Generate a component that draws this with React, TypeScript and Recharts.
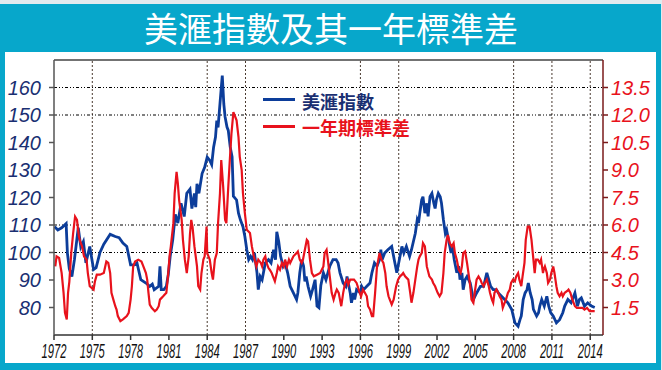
import React from 'react';
import { LineChart, Line, XAxis, YAxis, ReferenceLine } from 'recharts';

const usdYears = [
  1972.05, 1972.3, 1972.6, 1972.95, 1973.05, 1973.2, 1973.4, 1973.6, 1973.9, 1974.1,
  1974.3, 1974.5, 1974.8, 1975.1, 1975.3, 1975.6, 1975.9, 1976.4, 1976.8, 1977.1,
  1977.4, 1977.7, 1978.0, 1978.3, 1978.5, 1978.8, 1979.2, 1979.5, 1979.7, 1979.85,
  1980.2, 1980.3, 1980.4, 1980.6, 1980.8, 1980.95, 1981.1, 1981.3, 1981.5, 1981.7,
  1981.95, 1982.2, 1982.4, 1982.65, 1982.8, 1983.0, 1983.1, 1983.2, 1983.35, 1983.6,
  1983.8, 1984.0, 1984.2, 1984.35, 1984.5, 1984.65, 1984.75, 1984.85, 1985.0, 1985.18,
  1985.3, 1985.4, 1985.55, 1985.65, 1985.8, 1985.95, 1986.05, 1986.3, 1986.45, 1986.6,
  1986.8, 1986.95, 1987.1, 1987.25, 1987.4, 1987.55, 1987.7, 1987.9, 1988.0, 1988.15,
  1988.3, 1988.55, 1988.8, 1989.0, 1989.2, 1989.35, 1989.45, 1989.6, 1989.75, 1989.95,
  1990.1, 1990.3, 1990.5, 1990.75, 1991.0, 1991.1, 1991.25, 1991.4, 1991.55, 1991.65,
  1991.75, 1991.9, 1992.1, 1992.25, 1992.45, 1992.6, 1992.75, 1992.9, 1993.1, 1993.3,
  1993.6, 1993.85, 1994.1, 1994.25, 1994.4, 1994.65, 1994.85, 1994.95, 1995.2, 1995.3,
  1995.45, 1995.55, 1995.7, 1996.0, 1996.1, 1996.25, 1996.5, 1996.75, 1996.9, 1997.1,
  1997.3, 1997.5, 1997.6, 1997.7, 1997.9, 1998.15, 1998.45, 1998.55, 1998.7, 1998.85,
  1999.1, 1999.25, 1999.4, 1999.6, 1999.85, 2000.0, 2000.3, 2000.45, 2000.55, 2000.65,
  2000.8, 2000.9, 2001.05, 2001.2, 2001.3, 2001.45, 2001.6, 2001.75, 2001.85, 2001.95,
  2002.1, 2002.25, 2002.35, 2002.5, 2002.65, 2002.75, 2002.9, 2003.1, 2003.2, 2003.35,
  2003.45, 2003.55, 2003.7, 2003.8, 2003.95, 2004.05, 2004.2, 2004.35, 2004.6, 2004.85,
  2005.1, 2005.4, 2005.65, 2005.9, 2006.05, 2006.2, 2006.4, 2006.65, 2006.8, 2007.05,
  2007.3, 2007.55, 2007.85, 2008.1, 2008.35, 2008.5, 2008.6, 2008.75, 2008.9, 2009.05,
  2009.15, 2009.3, 2009.45, 2009.55, 2009.8, 2009.95, 2010.05, 2010.2, 2010.4, 2010.6,
  2010.75, 2010.9, 2011.1, 2011.35, 2011.6, 2011.85, 2012.0, 2012.25, 2012.5, 2012.8,
  2013.0, 2013.15, 2013.3, 2013.55, 2013.8, 2014.1, 2014.35,
];

const usdIndex = [
  109.4, 108.2, 109.0, 110.5, 99.8, 94.0, 91.3, 97.4, 109.0, 102.0,
  104.0, 96.2, 102.2, 93.8, 94.5, 100.0, 103.0, 106.6, 105.8, 105.4,
  103.4, 102.2, 95.5, 95.5, 96.2, 90.1, 88.9, 87.7, 88.5, 86.5,
  87.7, 95.0, 86.5, 86.5, 87.7, 92.0, 98.6, 104.6, 113.9, 110.7,
  117.9, 113.1, 121.5, 123.0, 116.0, 121.5, 116.5, 125.0, 121.5, 128.7,
  131.0, 134.7, 133.5, 132.0, 138.3, 142.0, 148.0, 145.5, 154.1, 164.3,
  154.0, 149.3, 145.6, 144.4, 138.4, 134.8, 120.5, 119.1, 114.3, 111.9,
  109.4, 105.8, 101.0, 97.4, 98.6, 97.4, 99.8, 92.6, 86.5, 91.3,
  90.1, 96.2, 97.4, 96.2, 101.0, 97.4, 107.5, 104.0, 98.6, 95.0,
  96.2, 92.6, 87.7, 85.3, 82.9, 85.3, 92.6, 97.4, 95.0, 89.5,
  91.3, 87.7, 84.1, 86.5, 90.1, 80.5, 79.9, 88.0, 92.6, 90.1,
  95.0, 97.4, 97.4, 96.2, 92.6, 88.9, 87.7, 91.3, 85.3, 81.7,
  85.3, 82.9, 86.5, 85.3, 87.7, 86.5, 87.7, 88.9, 92.6, 96.2,
  95.0, 97.4, 101.0, 97.4, 99.8, 101.0, 102.2, 99.8, 96.2, 92.6,
  98.6, 102.2, 99.8, 102.2, 98.6, 101.0, 107.0, 111.9, 110.7, 114.3,
  119.1, 120.3, 114.3, 117.9, 113.1, 120.3, 121.5, 117.9, 116.0, 119.1,
  121.5, 120.3, 117.9, 111.9, 107.0, 108.2, 104.6, 99.8, 102.2, 97.4,
  95.0, 92.6, 95.0, 90.1, 92.6, 86.5, 90.1, 91.3, 88.9, 82.9,
  85.3, 87.7, 87.7, 92.6, 90.1, 87.7, 86.5, 86.5, 85.3, 84.1,
  82.9, 81.7, 79.3, 74.4, 73.2, 75.6, 76.9, 82.9, 85.3, 86.5,
  88.9, 85.3, 82.9, 79.3, 76.9, 78.1, 80.5, 82.9, 80.5, 84.1,
  80.5, 78.1, 76.9, 74.4, 75.6, 78.1, 80.5, 82.9, 81.7, 85.3,
  80.5, 82.9, 83.5, 80.5, 81.7, 80.5, 80.0,
];

const sdYears = [
  1972.1, 1972.2, 1972.4, 1972.6, 1972.75, 1972.86, 1973.0, 1973.1, 1973.2, 1973.35,
  1973.5, 1973.65, 1973.8, 1973.95, 1974.05, 1974.2, 1974.35, 1974.55, 1974.65, 1974.8,
  1975.1, 1975.2, 1975.35, 1975.6, 1975.9, 1976.1, 1976.25, 1976.4, 1976.5, 1976.65,
  1976.8, 1976.9, 1977.0, 1977.2, 1977.4, 1977.7, 1977.85, 1978.0, 1978.1, 1978.2,
  1978.35, 1978.6, 1978.85, 1979.0, 1979.2, 1979.3, 1979.4, 1979.5, 1979.65, 1979.9,
  1980.05, 1980.2, 1980.3, 1980.55, 1980.8, 1980.95, 1981.05, 1981.15, 1981.35, 1981.45,
  1981.6, 1981.7, 1981.8, 1982.0, 1982.1, 1982.25, 1982.4, 1982.55, 1982.65, 1982.75,
  1982.85, 1983.0, 1983.2, 1983.3, 1983.45, 1983.55, 1983.7, 1983.8, 1983.95, 1984.0,
  1984.1, 1984.2, 1984.35, 1984.45, 1984.6, 1984.75, 1984.85, 1985.0, 1985.1, 1985.25,
  1985.4, 1985.5, 1985.65, 1985.8, 1985.9, 1986.05, 1986.2, 1986.3, 1986.45, 1986.55,
  1986.7, 1986.8, 1986.95, 1987.1, 1987.35, 1987.5, 1987.65, 1987.85, 1988.0, 1988.2,
  1988.3, 1988.4, 1988.55, 1988.65, 1988.8, 1988.9, 1989.05, 1989.15, 1989.3, 1989.45,
  1989.55, 1989.7, 1989.85, 1990.0, 1990.1, 1990.25, 1990.4, 1990.5, 1990.75, 1991.0,
  1991.1, 1991.25, 1991.4, 1991.5, 1991.65, 1991.8, 1991.9, 1992.05, 1992.2, 1992.35,
  1992.6, 1992.85, 1993.1, 1993.2, 1993.35, 1993.45, 1993.6, 1993.75, 1993.9, 1994.05,
  1994.15, 1994.3, 1994.4, 1994.5, 1994.65, 1994.8, 1994.95, 1995.05, 1995.2, 1995.5,
  1995.7, 1995.95, 1996.05, 1996.2, 1996.35, 1996.5, 1996.6, 1996.75, 1996.9, 1997.0,
  1997.15, 1997.3, 1997.4, 1997.5, 1997.65, 1997.8, 1997.95, 1998.05, 1998.2, 1998.3,
  1998.45, 1998.6, 1998.7, 1998.8, 1998.95, 1999.1, 1999.25, 1999.35, 1999.5, 1999.75,
  1999.9, 2000.0, 2000.15, 2000.3, 2000.45, 2000.55, 2000.65, 2000.8, 2000.9, 2001.05,
  2001.2, 2001.4, 2001.6, 2001.7, 2001.85, 2001.95, 2002.05, 2002.2, 2002.35, 2002.5,
  2002.6, 2002.75, 2002.85, 2003.0, 2003.15, 2003.3, 2003.4, 2003.55, 2003.7, 2003.85,
  2003.95, 2004.05, 2004.2, 2004.35, 2004.5, 2004.6, 2004.7, 2004.85, 2004.95, 2005.1,
  2005.25, 2005.4, 2005.5, 2005.65, 2005.75, 2005.9, 2006.05, 2006.15, 2006.3, 2006.4,
  2006.5, 2006.65, 2006.8, 2006.9, 2007.05, 2007.15, 2007.3, 2007.4, 2007.55, 2007.7,
  2007.8, 2007.95, 2008.1, 2008.2, 2008.35, 2008.45, 2008.6, 2008.7, 2008.85, 2008.95,
  2009.1, 2009.25, 2009.4, 2009.5, 2009.65, 2009.75, 2009.9, 2010.05, 2010.15, 2010.3,
  2010.35, 2010.45, 2010.6, 2010.7, 2010.85, 2010.95, 2011.1, 2011.2, 2011.35, 2011.45,
  2011.6, 2011.75, 2011.85, 2012.0, 2012.2, 2012.3, 2012.45, 2012.6, 2012.8, 2012.95,
  2013.2, 2013.4, 2013.55, 2013.75, 2013.95, 2014.35,
];

const sdValues = [
  3.74, 4.29, 4.2, 3.38, 2.3, 1.21, 0.85, 2.3, 2.9, 4.47,
  5.56, 6.46, 6.28, 5.37, 5.1, 4.83, 4.29, 4.11, 3.38, 2.66,
  2.48, 2.9, 3.29, 3.29, 3.38, 4.01, 3.93, 3.38, 2.3, 1.93,
  1.57, 1.39, 1.03, 0.76, 0.85, 1.03, 1.21, 1.93, 2.66, 3.74,
  4.01, 4.11, 4.01, 3.74, 3.38, 3.02, 2.3, 1.66, 1.48, 1.3,
  1.39, 1.57, 1.93, 2.11, 2.3, 3.38, 4.29, 4.83, 6.1, 7.73,
  8.9, 8.27, 7.36, 6.28, 5.19, 4.11, 3.38, 4.29, 5.5, 6.28,
  5.9, 4.83, 3.74, 2.66, 2.48, 3.38, 4.11, 4.29, 5.91, 4.47,
  4.29, 4.11, 3.38, 3.02, 4.11, 4.47, 6.1, 7.73, 9.54, 8.09,
  6.28, 6.1, 8.09, 9.9, 10.99, 12.16, 11.89, 11.71, 10.8, 9.72,
  8.99, 7.73, 6.64, 5.74, 5.56, 4.83, 4.29, 3.74, 4.11, 3.93,
  3.74, 4.11, 4.29, 3.93, 3.65, 3.56, 3.38, 3.2, 2.93, 3.38,
  3.74, 3.56, 3.93, 3.74, 4.11, 3.74, 4.11, 3.93, 4.29, 4.47,
  4.56, 4.11, 3.93, 4.11, 4.65, 5.19, 5.1, 4.11, 3.38, 3.2,
  3.29, 3.38, 3.74, 4.47, 4.65, 4.11, 3.2, 2.3, 1.93, 2.3,
  2.48, 2.3, 1.93, 1.57, 2.3, 2.84, 3.02, 2.75, 3.02, 3.02,
  2.84, 2.3, 2.11, 2.48, 2.3, 2.11, 1.57, 1.39, 1.03, 1.03,
  2.3, 3.74, 4.11, 4.47, 4.11, 3.93, 3.38, 2.66, 2.11, 1.93,
  1.66, 1.93, 2.3, 2.66, 3.02, 3.2, 3.29, 3.38, 3.2, 3.02,
  2.3, 1.76, 2.3, 3.02, 3.74, 4.11, 4.29, 4.47, 5.01, 4.83,
  3.74, 3.2, 3.02, 2.84, 2.66, 2.48, 2.3, 2.11, 2.3, 3.38,
  4.47, 5.19, 5.46, 5.01, 4.83, 5.01, 4.47, 4.11, 3.56, 3.38,
  3.74, 4.47, 4.56, 3.93, 3.2, 2.66, 1.93, 1.76, 2.3, 3.02,
  3.2, 3.02, 2.84, 2.66, 2.84, 3.02, 2.66, 2.3, 1.93, 1.76,
  2.3, 2.48, 2.3, 2.11, 1.93, 1.48, 1.76, 1.93, 2.3, 2.48,
  2.84, 3.02, 2.93, 3.2, 3.38, 3.02, 2.66, 3.2, 3.93, 5.19,
  5.91, 5.91, 5.19, 4.47, 3.38, 4.11, 4.11, 3.93, 4.11, 3.38,
  3.56, 3.74, 3.38, 2.84, 3.02, 3.38, 3.74, 3.38, 2.66, 2.3,
  2.11, 2.3, 2.11, 2.3, 2.4, 2.48, 2.3, 1.93, 1.57, 1.48,
  1.48, 1.48, 1.39, 1.48, 1.3, 1.3,
];

const xTicks = [1972, 1975, 1978, 1981, 1984, 1987, 1990, 1993, 1996, 1999, 2002, 2005, 2008, 2011, 2014];
const leftTicks = [80, 90, 100, 110, 120, 130, 140, 150, 160];
const rightTicks = [1.5, 3, 4.5, 6, 7.5, 9, 10.5, 12, 13.5];
const gridYears = [1975, 1984, 1987, 1996, 1999, 2008, 2011, 2014];
const gridLevels = [100, 110, 150, 160];

const titleText = '美滙指數及其一年標準差';
const usdName = '美滙指數';
const sdName = '一年期標準差';

const usdData = usdYears.map((x, i) => ({ x, usd: usdIndex[i] }));
const sdData = sdYears.map((x, i) => ({ x, sd: sdValues[i] }));

const TEAL = '#07A7CB';
const BLUE = '#0C3D9A';
const NAVY = '#1A2F72';
const RED = '#E8121C';
const CJK = '"Noto Sans CJK TC", "Noto Sans CJK SC", sans-serif';
const LAT = '"Liberation Sans", Arial, sans-serif';

const XTick = (props: any) => {
  const { x, y, payload } = props;
  return (
    <g transform={`translate(${x},${y})`}>
      <text
        x={0}
        y={0}
        dy={16}
        textAnchor="middle"
        fontFamily={LAT}
        fontStyle="italic"
        fontSize={20}
        fill="#111"
        transform="scale(0.56,1)"
        style={{ fontStyle: 'italic' }}
      >
        {payload.value}
      </text>
    </g>
  );
};

const LeftTick = (props: any) => {
  const { x, y, payload } = props;
  return (
    <text
      x={x}
      y={y}
      dy={7}
      textAnchor="end"
      fontFamily={LAT}
      fontSize={20}
      fill={NAVY}
      style={{ fontStyle: 'italic' }}
    >
      {payload.value}
    </text>
  );
};

const RightTick = (props: any) => {
  const { x, y, payload } = props;
  return (
    <text
      x={x}
      y={y}
      dy={7}
      textAnchor="start"
      fontFamily={LAT}
      fontSize={20}
      fill={RED}
      style={{ fontStyle: 'italic' }}
    >
      {Number(payload.value).toFixed(1)}
    </text>
  );
};

export default function App() {
  return (
    <div style={{ position: 'absolute', left: 0, top: 0, width: 662, height: 370, background: TEAL, overflow: 'hidden' }}>
      <div style={{ position: 'absolute', left: 0, top: 0, width: 662, height: 4, background: '#e2eaee' }} />
      <div style={{ position: 'absolute', left: 661, top: 0, width: 1, height: 370, background: '#e2eaee' }} />
      <div
        style={{
          position: 'absolute', left: 0, top: 4, width: 662, height: 48, lineHeight: '48px',
          textAlign: 'center', color: '#fff', fontFamily: CJK, fontSize: 34, fontWeight: 400,
        }}
      >
        {titleText}
      </div>
      <div style={{ position: 'absolute', left: 5, top: 52, width: 651, height: 311, background: '#fff' }} />
      <div style={{ position: 'absolute', left: 0, top: 0 }}>
        <LineChart width={662} height={370} margin={{ top: 60, right: 0, bottom: 0, left: 0 }}>
          {gridYears.map((g) => (
            <ReferenceLine key={'v' + g} yAxisId="left" x={g} stroke="#4a3a30" strokeWidth={1} strokeDasharray="2 2" zIndex={-50} />
          ))}
          {gridLevels.map((g) => (
            <ReferenceLine key={'h' + g} yAxisId="left" y={g} stroke="#000" strokeWidth={1} strokeDasharray="3 2 1 2 1 2" zIndex={-50} />
          ))}
          <ReferenceLine yAxisId="left" y={170} stroke="#444" strokeWidth={1.5} />
          <XAxis
            dataKey="x"
            type="number"
            domain={[1972, 2015]}
            ticks={xTicks}
            interval={0}
            allowDataOverflow
            height={35}
            tickSize={5}
            tickMargin={2}
            stroke="#333"
            strokeWidth={1.5}
            tick={<XTick />}
          />
          <YAxis
            yAxisId="left"
            domain={[70, 170]}
            ticks={leftTicks}
            interval={0}
            width={54}
            tickSize={5}
            tickMargin={8}
            stroke="#555"
            strokeWidth={1.5}
            allowDataOverflow
            tick={<LeftTick />}
          />
          <YAxis
            yAxisId="right"
            orientation="right"
            domain={[0, 15]}
            ticks={rightTicks}
            interval={0}
            width={59}
            tickSize={5}
            tickMargin={3}
            stroke="#7a1a1a"
            strokeWidth={1.5}
            allowDataOverflow
            tick={<RightTick />}
          />
          <Line
            data={usdData}
            dataKey="usd"
            yAxisId="left"
            type="linear"
            stroke={BLUE}
            strokeWidth={2.8}
            dot={false}
            isAnimationActive={false}
            name={usdName}
          />
          <Line
            data={sdData}
            dataKey="sd"
            yAxisId="right"
            type="linear"
            stroke={RED}
            strokeWidth={2.2}
            dot={false}
            isAnimationActive={false}
            name={sdName}
          />
        </LineChart>
      </div>
      <div style={{ position: 'absolute', left: 263, top: 98, width: 32, height: 3, background: BLUE }} />
      <div style={{ position: 'absolute', left: 302, top: 90, lineHeight: '22px', fontSize: 18, fontWeight: 700, color: NAVY, fontFamily: CJK, whiteSpace: 'nowrap' }}>
        {usdName}
      </div>
      <div style={{ position: 'absolute', left: 263, top: 125, width: 32, height: 3, background: RED }} />
      <div style={{ position: 'absolute', left: 302, top: 116, lineHeight: '22px', fontSize: 18, fontWeight: 700, color: RED, fontFamily: CJK, whiteSpace: 'nowrap' }}>
        {sdName}
      </div>
    </div>
  );
}
